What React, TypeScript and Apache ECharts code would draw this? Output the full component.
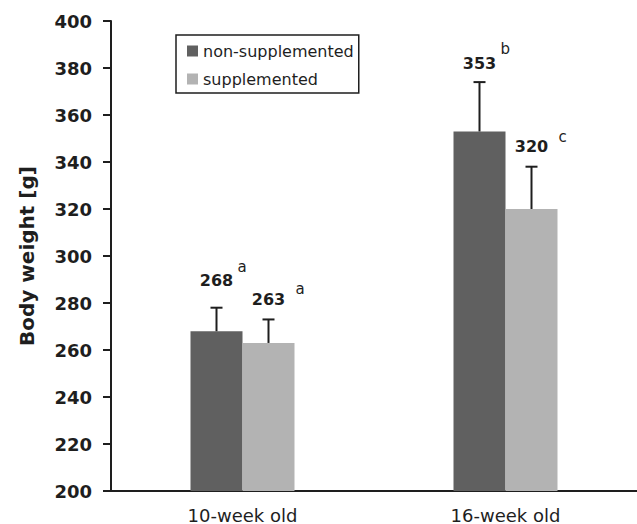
import React, { useEffect, useRef } from "react";
import * as echarts from "echarts";

const categories = ["10-week old", "16-week old"];
const seriesNames = ["non-supplemented", "supplemented"];
const nonSupplemented = [268, 353];
const supplemented = [263, 320];
const nonSupplementedErr = [10, 21];
const supplementedErr = [10, 18];
const nonSupplementedLetters = ["a", "b"];
const supplementedLetters = ["a", "c"];
const yMin = 200;
const yMax = 400;
const yInterval = 20;

const DARK = "#606060";
const LIGHT = "#b3b3b3";
const INK = "#1e1e1e";
const BAR_W = 52;
// label styling (pixel offsets): lift of number above error cap, per series per category
const labelLift = [
  [27, 19],
  [20, 20],
];
const letterDx = [21, 27];
const letterDy = [-14, -10];

function makeErrSeries(si: number, values: number[], errs: number[], letters: string[]) {
  const sign = si === 0 ? -1 : 1;
  return {
    type: "custom",
    name: seriesNames[si] + "-err",
    z: 5,
    silent: true,
    data: values.map((v, i) => [i, v, errs[i]]),
    encode: { x: 0, y: 1 },
    renderItem: (params: any, api: any) => {
      const ci = api.value(0);
      const v = api.value(1);
      const e = api.value(2);
      const base = api.coord([ci, v]);
      const top = api.coord([ci, v + e]);
      const x = base[0] + (sign * BAR_W) / 2;
      const lift = labelLift[si][params.dataIndex];
      const ny = top[1] - lift;
      const lineStyle = { stroke: INK, lineWidth: 2 };
      return {
        type: "group",
        children: [
          { type: "line", shape: { x1: x, y1: base[1], x2: x, y2: top[1] }, style: lineStyle },
          { type: "line", shape: { x1: x - 6, y1: top[1], x2: x + 6, y2: top[1] }, style: lineStyle },
          {
            type: "text",
            x: x,
            y: ny,
            style: {
              text: String(values[params.dataIndex]),
              fill: INK,
              font: "bold 16px 'DejaVu Sans'",
              align: "center",
              verticalAlign: "middle",
            },
          },
          {
            type: "text",
            x: x + letterDx[si],
            y: ny + letterDy[si],
            style: {
              text: letters[params.dataIndex],
              fill: INK,
              font: "15px 'DejaVu Sans'",
              align: "left",
              verticalAlign: "middle",
            },
          },
        ],
      };
    },
  };
}

export default function App() {
  const ref = useRef<HTMLDivElement>(null);
  useEffect(() => {
    if (!ref.current) return;
    const chart = echarts.init(ref.current, null, { renderer: "svg" });
    chart.setOption({
      animation: false,
      backgroundColor: "#ffffff",
      grid: { left: 111, top: 21, right: 0, bottom: 32, containLabel: false },
      legend: {
        data: seriesNames,
        orient: "vertical",
        left: 176,
        top: 35,
        icon: "rect",
        itemWidth: 11,
        itemHeight: 11,
        itemGap: 12,
        padding: [8, 5, 6, 11],
        borderColor: INK,
        borderWidth: 1.5,
        textStyle: { fontFamily: "DejaVu Sans", fontSize: 16, color: INK },
        selectedMode: false,
      },
      xAxis: {
        type: "category",
        data: categories,
        axisLine: { lineStyle: { color: INK, width: 2 } },
        axisTick: { show: false },
        axisLabel: { color: INK, fontFamily: "DejaVu Sans", fontSize: 18, margin: 15 },
      },
      yAxis: {
        type: "value",
        min: yMin,
        max: yMax,
        interval: yInterval,
        name: "Body weight [g]",
        nameLocation: "middle",
        nameGap: 74,
        nameTextStyle: { fontFamily: "DejaVu Sans", fontWeight: "bold", fontSize: 20, color: INK },
        axisLine: { show: true, lineStyle: { color: INK, width: 2 } },
        axisTick: { show: true, length: 8, lineStyle: { color: INK, width: 2 } },
        splitLine: { show: false },
        axisLabel: { color: INK, fontFamily: "DejaVu Sans", fontWeight: "bold", fontSize: 18, margin: 19 },
      },
      series: [
        {
          type: "bar",
          name: seriesNames[0],
          data: nonSupplemented,
          barWidth: BAR_W,
          barGap: "0%",
          itemStyle: { color: DARK },
        },
        {
          type: "bar",
          name: seriesNames[1],
          data: supplemented,
          barWidth: BAR_W,
          barGap: "0%",
          itemStyle: { color: LIGHT },
        },
        makeErrSeries(0, nonSupplemented, nonSupplementedErr, nonSupplementedLetters),
        makeErrSeries(1, supplemented, supplementedErr, supplementedLetters),
      ],
    });
    return () => chart.dispose();
  }, []);
  return <div ref={ref} style={{ width: 637, height: 524, position: "absolute", left: 0, top: 0 }} />;
}
